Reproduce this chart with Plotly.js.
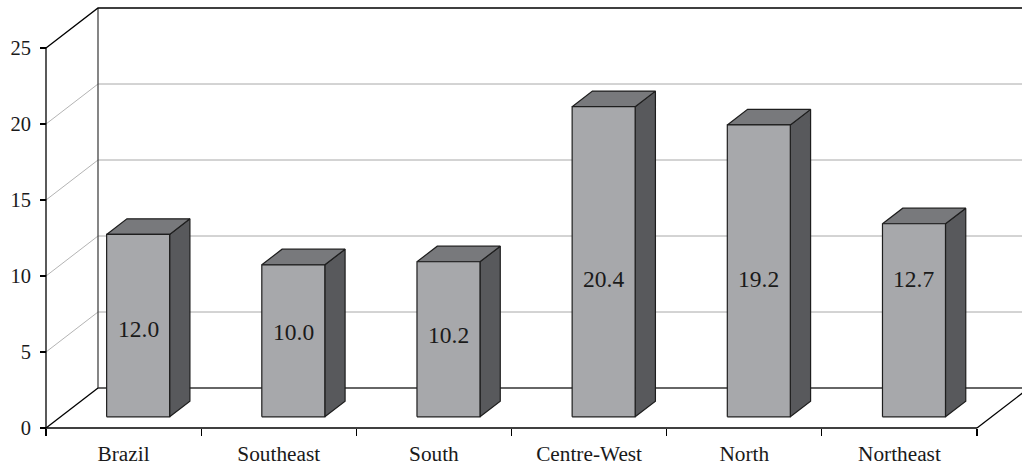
<!DOCTYPE html>
<html>
<head>
<meta charset="utf-8">
<script src="https://cdn.plot.ly/plotly-3.0.1.min.js"></script>
<style>html,body{margin:0;padding:0;background:#fff;}#chart{width:1022px;height:468px;}</style>
</head>
<body>
<div id="chart"></div>
<script>
// ---- data ----
const categories = ['Brazil', 'Southeast', 'South', 'Centre-West', 'North', 'Northeast'];
const values = [12.0, 10.0, 10.2, 20.4, 19.2, 12.7];
const valueLabels = ['12.0', '10.0', '10.2', '20.4', '19.2', '12.7'];
const yTicks = [0, 5, 10, 15, 20, 25];

// ---- layout geometry (pixels -> axis units) ----
const W = 1022, H = 468;
const frontAxisPx = 46, floorPx = 428, catPx = (977 - 46) / 6, valPx = 15.2;
const xmin = -0.5 - frontAxisPx / catPx, xmax = -0.5 + (W - frontAxisPx) / catPx;
const ymax = floorPx / valPx, ymin = ymax - H / valPx;
const Dx = 52 / catPx, Dy = 40 / valPx;     // full depth of the 3D box
const f1 = 0.28, f2 = 0.67;                 // bar front / back depth fraction
const hw = 0.203;                           // half bar width (category units)
const labelLevel = [6.5, 6.3, 6.15, 9.8, 9.8, 9.8]; // label heights in value units (front plane)
const yTop = yTicks[yTicks.length - 1];
const xL = -0.5, xR = categories.length - 0.5;

const FONT = 'Liberation Serif, Times New Roman, serif';
const traces = [];
function seg(pts, color, width) {
  traces.push({x: pts.map(p => p[0]), y: pts.map(p => p[1]), mode: 'lines',
    line: {color: color, width: width}, hoverinfo: 'skip', showlegend: false});
}
function poly(pts, fill) {
  const c = pts.concat([pts[0]]);
  traces.push({x: c.map(p => p[0]), y: c.map(p => p[1]), mode: 'lines', fill: 'toself',
    fillcolor: fill, line: {color: '#1e1e1e', width: 1.2}, hoverinfo: 'skip', showlegend: false});
}

// back-wall gridlines and left-wall diagonals
yTicks.forEach(t => {
  if (t > 0 && t < yTop) {
    seg([[xL + Dx, t + Dy], [xR + Dx, t + Dy]], '#a8a8a8', 1);
    seg([[xL, t], [xL + Dx, t + Dy]], '#b4b4b4', 1);
  }
});
// back wall left edge
seg([[xL + Dx, Dy], [xL + Dx, yTop + Dy]], '#444', 1.3);
// top edges
seg([[xL, yTop], [xL + Dx, yTop + Dy], [xR + Dx, yTop + Dy]], '#000', 1.3);
// floor
seg([[xL + Dx, Dy], [xR + Dx, Dy]], '#333', 1.3);
seg([[xL, 0], [xL + Dx, Dy]], '#000', 1.3);
seg([[xR, 0], [xR + Dx, Dy]], '#000', 1.3);
seg([[xL, 0], [xR, 0]], '#000', 1.3);
// front value axis
seg([[xL, 0], [xL, yTop]], '#000', 1.3);

// bars
const annotations = [];
values.forEach((v, i) => {
  const cx = i + f1 * Dx, x0 = cx - hw, x1 = cx + hw;
  const yb = f1 * Dy, yt = v + f1 * Dy;
  const ddx = (f2 - f1) * Dx, ddy = (f2 - f1) * Dy;
  poly([[x1, yb], [x1 + ddx, yb + ddy], [x1 + ddx, yt + ddy], [x1, yt]], '#58595c');
  poly([[x0, yt], [x1, yt], [x1 + ddx, yt + ddy], [x0 + ddx, yt + ddy]], '#78797c');
  poly([[x0, yb], [x1, yb], [x1, yt], [x0, yt]], '#a7a8ab');
  annotations.push({x: cx, y: labelLevel[i], xref: 'x', yref: 'y', text: valueLabels[i],
    showarrow: false, font: {family: FONT, size: 23.5, color: '#1a1a1a'}});
});

// invisible trace to hold the label axis
traces.push({x: [0], y: [0], xaxis: 'x2', yaxis: 'y', mode: 'markers',
  marker: {opacity: 0}, hoverinfo: 'skip', showlegend: false});

const axPos = (H - floorPx) / H;
const layout = {
  width: W, height: H,
  margin: {l: 0, r: 0, t: 0, b: 0},
  paper_bgcolor: '#fff', plot_bgcolor: '#fff',
  showlegend: false,
  xaxis: {range: [xmin, xmax], anchor: 'free', position: axPos,
    tickmode: 'array', tickvals: categories.map((c, i) => i - 0.5).concat([xR]),
    ticktext: categories.map(() => '').concat(['']),
    ticks: 'outside', ticklen: 7, tickcolor: '#000', tickwidth: 1.3,
    showgrid: false, zeroline: false, showline: false, fixedrange: true},
  xaxis2: {range: [xmin, xmax], overlaying: 'x', anchor: 'free', position: axPos,
    side: 'bottom', tickmode: 'array', tickvals: categories.map((c, i) => i), ticktext: categories,
    ticks: '', ticklabelstandoff: 11, showgrid: false, zeroline: false, showline: false,
    tickfont: {family: FONT, size: 21.3, color: '#1a1a1a'}, fixedrange: true},
  yaxis: {range: [ymin, ymax], anchor: 'free', position: frontAxisPx / W,
    tickmode: 'array', tickvals: yTicks, ticktext: yTicks.map(String),
    ticks: 'outside', ticklen: 6, tickcolor: '#000', tickwidth: 1.3,
    ticklabelstandoff: 5,
    showgrid: false, zeroline: false, showline: false,
    tickfont: {family: FONT, size: 20.5, color: '#1a1a1a'}, fixedrange: true},
  annotations: annotations
};
Plotly.newPlot('chart', traces, layout, {staticPlot: true, displayModeBar: false});
</script>
</body>
</html>
